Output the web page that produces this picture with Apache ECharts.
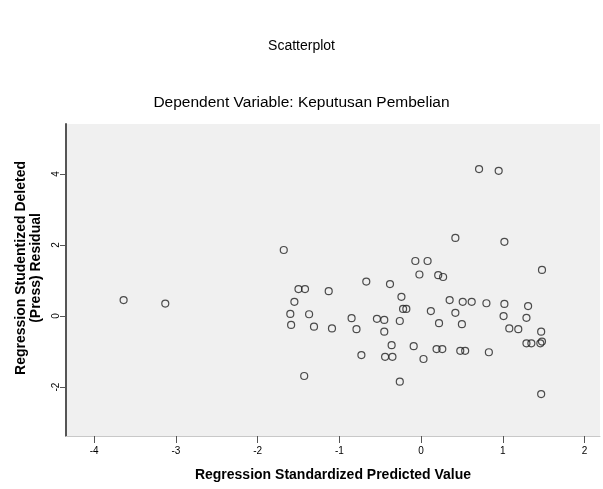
<!DOCTYPE html>
<html>
<head>
<meta charset="utf-8">
<script src="https://cdn.jsdelivr.net/npm/echarts@6/dist/echarts.min.js"></script>
<style>html,body{margin:0;padding:0;background:#fff;}#c{width:603px;height:489px;}</style>
</head>
<body>
<div id="c"></div>
<script>
// Regression Standardized Predicted Value
const predicted = [-3.64,-3.13,-1.68,-0.07,0.08,0.71,0.95,0.42,1.02,1.48,
  -0.02,0.21,0.27,-0.67,-0.38,-1.50,-1.42,-1.13,-0.24,-1.55,
  -0.22,-0.18,-1.60,-1.37,-0.85,-0.54,-0.45,-0.26,0.35,0.51,
  0.62,0.80,1.02,1.31,0.12,0.42,1.01,1.29,0.22,0.50,
  -1.59,-1.31,-1.09,-0.79,-0.45,1.08,1.19,1.47,-0.36,-0.09,
  1.29,1.35,1.46,1.48,0.19,0.26,0.48,0.54,0.83,-0.73,
  -0.44,-0.35,0.03,-1.43,-0.26,1.47];
// Regression Studentized Deleted (Press) Residual
const residual = [0.45,0.35,1.86,1.55,1.55,4.14,4.09,2.20,2.09,1.30,
  1.17,1.15,1.10,0.97,0.90,0.76,0.76,0.70,0.54,0.40,
  0.20,0.20,0.06,0.05,-0.06,-0.08,-0.11,-0.14,0.45,0.40,
  0.40,0.36,0.34,0.28,0.14,0.09,0.00,-0.05,-0.20,-0.23,
  -0.25,-0.30,-0.35,-0.37,-0.44,-0.35,-0.37,-0.44,-0.82,-0.85,
  -0.77,-0.77,-0.77,-0.72,-0.93,-0.93,-0.98,-0.98,-1.02,-1.10,
  -1.15,-1.15,-1.21,-1.69,-1.85,-2.20];
const xTicks = [-4,-3,-2,-1,0,1,2];
const yTicks = [-2,0,2,4];

const points = predicted.map((x, i) => [x, residual[i]]);
const font = 'Arial, "Liberation Sans", sans-serif';

const chart = echarts.init(document.getElementById('c'), null, {renderer: 'canvas'});
chart.setOption({
  animation: false,
  backgroundColor: '#ffffff',
  title: [
    {text: 'Scatterplot', left: 'center', top: 34,
     textStyle: {fontFamily: font, fontSize: 14, fontWeight: 'normal', color: '#000'}},
    {text: 'Dependent Variable: Keputusan Pembelian', left: 'center', top: 90,
     textStyle: {fontFamily: font, fontSize: 15.5, fontWeight: 'normal', color: '#000'}}
  ],
  grid: {left: 66, right: 3, top: 124, bottom: 53, show: true,
         backgroundColor: '#f0f0f0', borderWidth: 0, containLabel: false},
  xAxis: {
    type: 'value', min: -4.345, max: 2.19,
    name: 'Regression Standardized Predicted Value',
    nameLocation: 'middle', nameGap: 32,
    nameTextStyle: {fontFamily: font, fontSize: 14, fontWeight: 'bold', color: '#000'},
    axisLine: {show: true, onZero: false, lineStyle: {color: '#c8c8c8', width: 1}},
    axisTick: {show: true, length: 7, customValues: xTicks, lineStyle: {color: '#555', width: 1}},
    axisLabel: {customValues: xTicks, fontFamily: font, fontSize: 10, color: '#000', margin: 10},
    splitLine: {show: false}
  },
  yAxis: {
    type: 'value', min: -3.38, max: 5.41,
    axisLine: {show: true, onZero: false, lineStyle: {color: '#555', width: 2}},
    axisTick: {show: true, length: 6, customValues: yTicks, lineStyle: {color: '#555', width: 1}},
    axisLabel: {customValues: yTicks, rotate: 90, fontFamily: font, fontSize: 10, color: '#000', margin: 5},
    splitLine: {show: false}
  },
  graphic: [{
    type: 'text', x: 29, y: 268, rotation: Math.PI / 2,
    style: {text: 'Regression Studentized Deleted\n(Press) Residual',
      fontFamily: font, fontSize: 14, fontWeight: 'bold', fill: '#000',
      align: 'center', verticalAlign: 'middle', lineHeight: 15}
  }],
  series: [{
    type: 'scatter', data: points, symbol: 'circle', symbolSize: 7,
    itemStyle: {color: 'rgba(0,0,0,0)', borderColor: '#222', borderWidth: 1.2}
  }]
});
</script>
</body>
</html>
